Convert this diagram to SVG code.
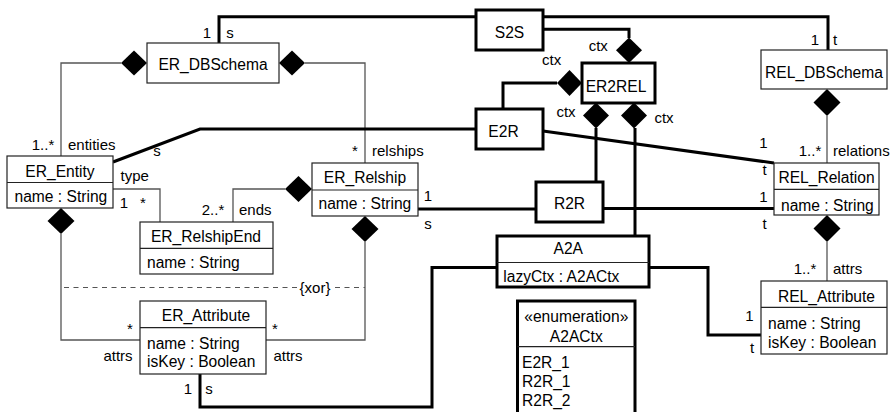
<svg xmlns="http://www.w3.org/2000/svg" width="893" height="412" viewBox="0 0 893 412">
<style>
text{font-family:"Liberation Sans",Arial,sans-serif;fill:#000}
.t{font-size:15.6px}
.c{text-anchor:middle}
.l{font-size:15px}
.cls{fill:#fff;stroke:#222;stroke-width:1.2}
.map{fill:#fff;stroke:#000;stroke-width:3}
.div{stroke:#222;stroke-width:1.2}
.thin{fill:none;stroke:#555;stroke-width:1.3}
.thick{fill:none;stroke:#000;stroke-width:3}
.dia{fill:#000;stroke:none}
.dash{fill:none;stroke:#555;stroke-width:1.2;stroke-dasharray:5 4.5}
</style>
<rect width="893" height="412" fill="#fff"/>
<g id="connectors">
  <!-- thin compositions -->
  <path class="thin" d="M121,63 H61 V156"/>
  <polygon class="dia" points="147,63 134,50.5 121,63 134,75.5"/>
  <path class="thin" d="M305,63 H365 V163"/>
  <polygon class="dia" points="279,63 292,50.5 305,63 292,75.5"/>
  <path class="thin" d="M285,189 H233 V222"/>
  <polygon class="dia" points="312,189 298.5,176 285,189 298.5,202"/>
  <path class="thin" d="M113,189 H160 V222"/>
  <path class="thin" d="M61,234 V340 H140"/>
  <polygon class="dia" points="61,208 74.5,221 61,234 47.5,221"/>
  <path class="thin" d="M365,242 V340 H266"/>
  <polygon class="dia" points="365,216 378.5,229 365,242 351.5,229"/>
  <path class="thin" d="M827,116 V163"/>
  <polygon class="dia" points="827,89 840.5,102.5 827,116 813.5,102.5"/>
  <path class="thin" d="M827,242 V281"/>
  <polygon class="dia" points="827,215 840.5,228.5 827,242 813.5,228.5"/>
  <path class="dash" d="M64,287.5 H297"/>
  <path class="dash" d="M335,287.5 H365"/>
  <text class="l" x="315" y="293" text-anchor="middle">{xor}</text>
  <!-- thick mapping connectors -->
  <path class="thick" d="M219,43 V16.7 H476"/>
  <path class="thick" d="M543,16.7 H828 V50"/>
  <path class="thick" d="M543,29.3 H629 V38"/>
  <polygon class="dia" points="629,37.5 642,50.3 629,63 616,50.3"/>
  <path class="thick" d="M503,109 V83 H557"/>
  <polygon class="dia" points="582,83 569.5,70 557,83 569.5,96"/>
  <path class="thick" d="M596,128 V182"/>
  <polygon class="dia" points="596,102.5 609,115.5 596,128.5 583,115.5"/>
  <path class="thick" d="M635,128 V236"/>
  <polygon class="dia" points="634,102.5 647,115.5 634,128.5 621,115.5"/>
  <path class="thick" d="M476,129 H200 L113,162"/>
  <path class="thick" d="M543,131 L774,163"/>
  <path class="thick" d="M536,209 H418"/>
  <path class="thick" d="M603,208.5 H774"/>
  <path class="thick" d="M497,267.5 H432 V407 H200 V374"/>
  <path class="thick" d="M649,267.5 H708 V335 H761"/>
  <!-- labels -->
  <text class="l c" x="207" y="37.5">1</text>
  <text class="l c" x="230" y="37.5">s</text>
  <text class="l c" x="43" y="149.5">1..*</text>
  <text class="l" x="68" y="149.5">entities</text>
  <text class="l c" x="157" y="156">s</text>
  <text class="l c" x="355" y="156">*</text>
  <text class="l" x="372" y="156">relships</text>
  <text class="l" x="120.5" y="181">type</text>
  <text class="l c" x="124" y="207.5">1</text>
  <text class="l c" x="143" y="207.5">*</text>
  <text class="l c" x="213" y="215">2..*</text>
  <text class="l" x="239" y="215">ends</text>
  <text class="l c" x="428" y="201">1</text>
  <text class="l c" x="428" y="228.5">s</text>
  <text class="l c" x="130" y="334">*</text>
  <text class="l c" x="118" y="360.5">attrs</text>
  <text class="l c" x="275" y="334">*</text>
  <text class="l c" x="288" y="360.5">attrs</text>
  <text class="l c" x="188" y="394">1</text>
  <text class="l c" x="209" y="394">s</text>
  <text class="l c" x="815" y="45">1</text>
  <text class="l c" x="835" y="45">t</text>
  <text class="l c" x="810" y="156">1..*</text>
  <text class="l" x="833" y="156">relations</text>
  <text class="l c" x="763.5" y="148.3">1</text>
  <text class="l c" x="764.5" y="175">t</text>
  <text class="l c" x="763.5" y="201.7">1</text>
  <text class="l c" x="764.5" y="229.3">t</text>
  <text class="l c" x="805" y="274">1..*</text>
  <text class="l" x="833" y="274">attrs</text>
  <text class="l c" x="749.3" y="320.7">1</text>
  <text class="l c" x="752" y="353.3">t</text>
  <text class="l c" x="598.3" y="50.5">ctx</text>
  <text class="l c" x="551.7" y="65">ctx</text>
  <text class="l c" x="566" y="116.5">ctx</text>
  <text class="l c" x="664" y="123">ctx</text>
</g>
<g id="ER_DBSchema">
  <rect class="cls" x="147" y="43" width="132" height="40"/>
  <text class="t c" x="213" y="69.5">ER_DBSchema</text>
</g>
<g id="ER_Entity">
  <rect class="cls" x="7" y="156" width="106" height="52"/>
  <line class="div" x1="7" y1="182.5" x2="113" y2="182.5"/>
  <text class="t c" x="60" y="176.5">ER_Entity</text>
  <text class="t" x="14.5" y="201.5">name : String</text>
</g>
<g id="ER_Relship">
  <rect class="cls" x="312" y="163" width="106" height="53"/>
  <line class="div" x1="312" y1="190" x2="418" y2="190"/>
  <text class="t c" x="365" y="182.5">ER_Relship</text>
  <text class="t" x="318.5" y="209">name : String</text>
</g>
<g id="ER_RelshipEnd">
  <rect class="cls" x="140" y="222" width="133" height="52"/>
  <line class="div" x1="140" y1="248.3" x2="273" y2="248.3"/>
  <text class="t c" x="206" y="242">ER_RelshipEnd</text>
  <text class="t" x="147" y="268">name : String</text>
</g>
<g id="ER_Attribute">
  <rect class="cls" x="140" y="301" width="126" height="73"/>
  <line class="div" x1="140" y1="327.7" x2="266" y2="327.7"/>
  <text class="t c" x="206" y="321">ER_Attribute</text>
  <text class="t" x="147" y="348.5">name : String</text>
  <text class="t" x="147" y="367">isKey : Boolean</text>
</g>
<g id="REL_DBSchema">
  <rect class="cls" x="761" y="50" width="126" height="39"/>
  <text class="t c" x="824" y="78">REL_DBSchema</text>
</g>
<g id="REL_Relation">
  <rect class="cls" x="774" y="163" width="105" height="52"/>
  <line class="div" x1="774" y1="189.3" x2="879" y2="189.3"/>
  <text class="t c" x="826.5" y="183">REL_Relation</text>
  <text class="t" x="781" y="210.5">name : String</text>
</g>
<g id="REL_Attribute">
  <rect class="cls" x="761" y="281" width="126" height="73"/>
  <line class="div" x1="761" y1="307.3" x2="887" y2="307.3"/>
  <text class="t c" x="826.5" y="302">REL_Attribute</text>
  <text class="t" x="768" y="329">name : String</text>
  <text class="t" x="768" y="348">isKey : Boolean</text>
</g>
<g id="A2ACtx">
  <path class="map" d="M517.5,420 V301 H635 V420"/>
  <line class="div" x1="517.5" y1="346.7" x2="635" y2="346.7"/>
  <text class="t c" x="576.3" y="322">«enumeration»</text>
  <text class="t c" x="576.3" y="342">A2ACtx</text>
  <text class="t" x="522" y="368">E2R_1</text>
  <text class="t" x="522" y="387">R2R_1</text>
  <text class="t" x="522" y="406">R2R_2</text>
</g>
<g id="S2S">
  <rect class="map" x="476" y="10" width="67" height="40"/>
  <text class="t c" x="509.5" y="38">S2S</text>
</g>
<g id="ER2REL">
  <rect class="map" x="582" y="63" width="73" height="40"/>
  <text class="t c" x="616" y="91.5">ER2REL</text>
</g>
<g id="E2R">
  <rect class="map" x="476" y="109" width="67" height="40"/>
  <text class="t c" x="503.5" y="136.5">E2R</text>
</g>
<g id="R2R">
  <rect class="map" x="536" y="182" width="67" height="40"/>
  <text class="t c" x="569.5" y="209">R2R</text>
</g>
<g id="A2A">
  <rect class="map" x="497" y="236" width="152" height="51"/>
  <line class="div" x1="497" y1="262.5" x2="649" y2="262.5"/>
  <text class="t c" x="568.3" y="253.5">A2A</text>
  <text class="t" x="503.3" y="281.5">lazyCtx : A2ACtx</text>
</g>
</svg>
